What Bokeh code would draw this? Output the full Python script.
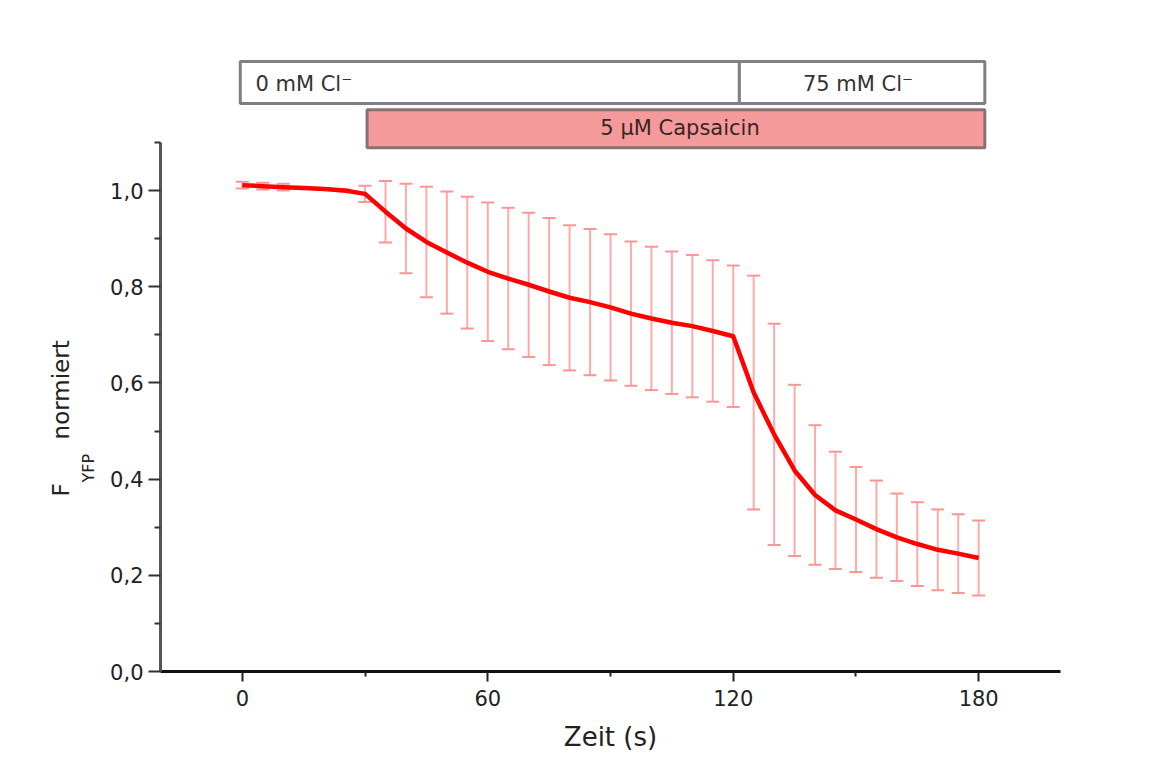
from bokeh.plotting import figure
from bokeh.models import Range1d, FixedTicker, CustomJSTickFormatter, ColumnDataSource, Title
from bokeh.core.properties import value
from bokeh.embed import file_html
from bokeh.resources import INLINE

# ---- data ----
time_s = [0, 5, 10, 15, 20, 25, 30, 35, 40, 45, 50, 55, 60, 65, 70, 75, 80, 85, 90,
          95, 100, 105, 110, 115, 120, 125, 130, 135, 140, 145, 150, 155, 160, 165,
          170, 175, 180]
fyfp_mean = [1.011, 1.009, 1.007, 1.005, 1.003, 1.000, 0.993,
             0.956, 0.921, 0.893, 0.871, 0.850, 0.831, 0.817, 0.804, 0.790, 0.777,
             0.768, 0.757, 0.744, 0.734, 0.725, 0.718, 0.708, 0.697,
             0.580, 0.493, 0.418, 0.367, 0.335, 0.316, 0.296, 0.279, 0.265, 0.253,
             0.245, 0.236]
fyfp_err = [0.007, 0.007, 0.007, 0.002, 0.002, 0.002, 0.017,
            0.064, 0.093, 0.115, 0.127, 0.137, 0.144, 0.147, 0.150, 0.153, 0.151,
            0.152, 0.152, 0.150, 0.149, 0.148, 0.148, 0.147, 0.147,
            0.243, 0.230, 0.178, 0.145, 0.122, 0.109, 0.101, 0.091, 0.087, 0.084,
            0.082, 0.078]

chloride_labels = ["0 mM Cl\u207b", "75 mM Cl\u207b"]
chloride_start = [-0.5, 121.5]
chloride_end = [121.5, 181.5]
capsaicin_label = "5 \u00b5M Capsaicin"
capsaicin_start = 30.5
capsaicin_end = 181.5

x_ticks = [0, 60, 120, 180]
x_minor = [30, 90, 150]
y_ticks = [0.0, 0.2, 0.4, 0.6, 0.8, 1.0]
y_minor = [0.1, 0.3, 0.5, 0.7, 0.9, 1.1]

FONT = "DejaVu Sans"

upper = [m + e for m, e in zip(fyfp_mean, fyfp_err)]
lower = [m - e for m, e in zip(fyfp_mean, fyfp_err)]
src = ColumnDataSource(dict(t=time_s, m=fyfp_mean, up=upper, lo=lower))

p = figure(width=1158, height=762, output_backend="svg", toolbar_location=None,
           x_range=Range1d(-20, 200), y_range=Range1d(0, 640 / 481),
           min_border_left=160, min_border_right=98, min_border_top=31,
           min_border_bottom=91)
p.outline_line_color = None
p.xgrid.visible = False
p.ygrid.visible = False
p.background_fill_color = "white"
p.border_fill_color = "white"

# ---- top protocol boxes ----
p.quad(left=chloride_start, right=chloride_end, top=1.268, bottom=1.181,
       fill_color="white", line_color="#808080", line_width=3)
p.quad(left=[capsaicin_start], right=[capsaicin_end], top=1.168, bottom=1.089,
       fill_color="#f59a9a", line_color="#8a7070", line_width=3)
p.text(x=[chloride_start[0] + 3.7], y=[1.222], text=[chloride_labels[0]],
       text_font=value(FONT), text_font_size="21px", text_color="#333333",
       text_align="left", text_baseline="middle")
p.text(x=[(chloride_start[1] + chloride_end[1]) / 2 - 1.0], y=[1.222],
       text=[chloride_labels[1]], text_font=value(FONT), text_font_size="21px",
       text_color="#333333", text_align="center", text_baseline="middle")
p.text(x=[(capsaicin_start + capsaicin_end) / 2 + 1.0], y=[1.129],
       text=[capsaicin_label], text_font=value(FONT), text_font_size="21px",
       text_color="#3a2525", text_align="center", text_baseline="middle")

# ---- error bars ----
p.segment(x0="t", y0="lo", x1="t", y1="up", source=src, line_color="#ffaaaa",
          line_width=2)
p.scatter(x="t", y="up", source=src, marker="dash", size=13, line_color="#ff9494",
          line_width=2)
p.scatter(x="t", y="lo", source=src, marker="dash", size=13, line_color="#ff9494",
          line_width=2)

# ---- mean line ----
p.line(x="t", y="m", source=src, line_color="#ff0000", line_width=4.5,
       line_join="round")

# ---- axes ----
xa = p.xaxis[0]
xa.ticker = FixedTicker(ticks=x_ticks, minor_ticks=x_minor)
xa.axis_line_color = "#111111"
xa.axis_line_width = 3
xa.major_tick_line_color = "#222222"
xa.major_tick_line_width = 2
xa.minor_tick_line_color = "#222222"
xa.minor_tick_line_width = 2
xa.major_tick_out = 10
xa.major_tick_in = 0
xa.minor_tick_out = 5
xa.minor_tick_in = 0
xa.major_label_text_font = FONT
xa.major_label_text_font_size = "21px"
xa.major_label_text_color = "#222222"
xa.major_label_standoff = 8
xa.axis_label = "Zeit (s)"
xa.axis_label_text_font = FONT
xa.axis_label_text_font_size = "26px"
xa.axis_label_text_font_style = "normal"
xa.axis_label_text_color = "#222222"
xa.axis_label_standoff = 13

ya = p.yaxis[0]
ya.ticker = FixedTicker(ticks=y_ticks, minor_ticks=y_minor)
ya.bounds = (0, 1.1)
ya.formatter = CustomJSTickFormatter(code="return tick.toFixed(1).replace('.', ',');")
ya.axis_line_color = "#555555"
ya.axis_line_width = 3
ya.major_tick_line_color = "#333333"
ya.major_tick_line_width = 2
ya.minor_tick_line_color = "#333333"
ya.minor_tick_line_width = 2
ya.major_tick_out = 12
ya.major_tick_in = 0
ya.minor_tick_out = 6
ya.minor_tick_in = 0
ya.major_label_text_font = FONT
ya.major_label_text_font_size = "21px"
ya.major_label_text_color = "#222222"
ya.major_label_standoff = 5
ya.axis_label = None

# ---- y axis label: F_YFP normiert (subscript as a separate title) ----
p.add_layout(Title(text="YFP", align="left", offset=189, text_font=FONT,
                   text_font_size="16px", text_font_style="normal",
                   text_color="#222222", standoff=20), "left")
p.add_layout(Title(text="F" + "\u00a0" * 6 + "normiert", align="left", offset=175,
                   text_font=FONT, text_font_size="23px", text_font_style="normal",
                   text_color="#222222", standoff=-15), "left")

open("out.html", "w").write(file_html(p, INLINE))
